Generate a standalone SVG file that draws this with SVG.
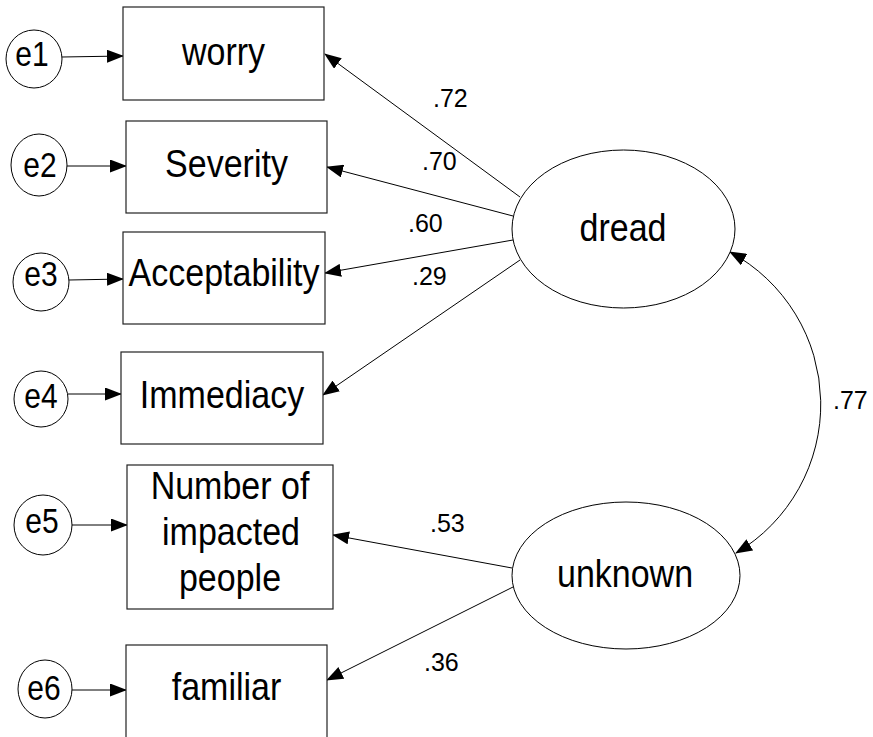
<svg xmlns="http://www.w3.org/2000/svg" width="873" height="737" viewBox="0 0 873 737">
<defs>
<marker id="ah" markerUnits="userSpaceOnUse" markerWidth="17" markerHeight="13" viewBox="0 0 17 13" refX="16" refY="6.5" orient="auto-start-reverse">
<path d="M0,0 L17,6.5 L0,13 z" fill="#000"/>
</marker>
<style>
.box{fill:#fff;stroke:#222;stroke-width:1.2}
.el{fill:#fff;stroke:#000;stroke-width:1}
.t{font-family:"Liberation Sans",Arial,Helvetica,sans-serif;font-size:34px;fill:#000;text-anchor:middle}
.e{font-family:"Liberation Sans",Arial,Helvetica,sans-serif;font-size:30px;fill:#000;text-anchor:middle}
.lb{font-family:"Liberation Sans",Arial,Helvetica,sans-serif;font-size:25px;fill:#000}
.c{fill:none;stroke:#000;stroke-width:1;marker-end:url(#ah)}
</style>
</defs>
<rect width="873" height="737" fill="#fff"/>
<g id="connectors">
<line class="c" x1="62" y1="57" x2="123" y2="56"/>
<line class="c" x1="67" y1="166" x2="126" y2="166"/>
<line class="c" x1="69" y1="280" x2="123" y2="279"/>
<line class="c" x1="68" y1="394" x2="121" y2="394"/>
<line class="c" x1="72" y1="525" x2="127" y2="525"/>
<line class="c" x1="72" y1="690" x2="126" y2="690"/>
<line class="c" x1="520" y1="197" x2="325" y2="54"/>
<line class="c" x1="513" y1="216" x2="327" y2="167"/>
<line class="c" x1="513" y1="240" x2="325" y2="273"/>
<line class="c" x1="520" y1="260" x2="323" y2="395"/>
<line class="c" x1="512" y1="568" x2="333" y2="535"/>
<line class="c" x1="513" y1="587" x2="327" y2="680"/>
<path class="c" d="M730,252 A173,173 0 0 1 736,553" style="marker-start:url(#ah)"/>
<text class="lb" x="433" y="107">.72</text>
<text class="lb" x="422" y="170">.70</text>
<text class="lb" x="408" y="232">.60</text>
<text class="lb" x="412" y="285">.29</text>
<text class="lb" x="833" y="409">.77</text>
<text class="lb" x="430" y="532">.53</text>
<text class="lb" x="424" y="671">.36</text>
</g>
<g id="e1"><ellipse class="el" cx="34" cy="59" rx="28" ry="29"/><text class="e" transform="translate(32,66) scale(1,1.17)">e1</text></g>
<g id="e2"><ellipse class="el" cx="39" cy="165" rx="28" ry="31"/><text class="e" transform="translate(40,177) scale(1,1.17)">e2</text></g>
<g id="e3"><ellipse class="el" cx="41" cy="282" rx="28" ry="29"/><text class="e" transform="translate(41,286) scale(1,1.17)">e3</text></g>
<g id="e4"><ellipse class="el" cx="41" cy="399" rx="27" ry="28"/><text class="e" transform="translate(41,408) scale(1,1.17)">e4</text></g>
<g id="e5"><ellipse class="el" cx="43" cy="525" rx="29" ry="30"/><text class="e" transform="translate(42,533) scale(1,1.17)">e5</text></g>
<g id="e6"><ellipse class="el" cx="45" cy="689" rx="27" ry="29"/><text class="e" transform="translate(44,700) scale(1,1.17)">e6</text></g>
<g id="worry"><rect class="box" x="123" y="7" width="201" height="93"/><text class="t" transform="translate(223.5,65) scale(1,1.13)">worry</text></g>
<g id="severity"><rect class="box" x="126" y="121" width="201" height="92"/><text class="t" transform="translate(226.5,177) scale(1,1.13)">Severity</text></g>
<g id="acceptability"><rect class="box" x="123" y="232" width="202" height="92"/><text class="t" transform="translate(224,286) scale(1,1.13)">Acceptability</text></g>
<g id="immediacy"><rect class="box" x="121" y="352" width="202" height="92"/><text class="t" transform="translate(222,408) scale(1,1.13)">Immediacy</text></g>
<g id="number"><rect class="box" x="127" y="465" width="206" height="144"/><text class="t" transform="translate(230,499) scale(1,1.13)">Number of</text><text class="t" transform="translate(231,545) scale(1,1.13)">impacted</text><text class="t" transform="translate(230,591) scale(1,1.13)">people</text></g>
<g id="familiar"><rect class="box" x="126" y="645" width="201" height="110"/><text class="t" transform="translate(226.5,700) scale(1,1.13)">familiar</text></g>
<g id="dread"><ellipse class="el" cx="623.5" cy="229" rx="111.5" ry="79"/><text class="t" transform="translate(623,241) scale(1,1.13)">dread</text></g>
<g id="unknown"><ellipse class="el" cx="626" cy="575.5" rx="114" ry="73.5"/><text class="t" transform="translate(625,587) scale(1,1.13)">unknown</text></g>
</svg>
